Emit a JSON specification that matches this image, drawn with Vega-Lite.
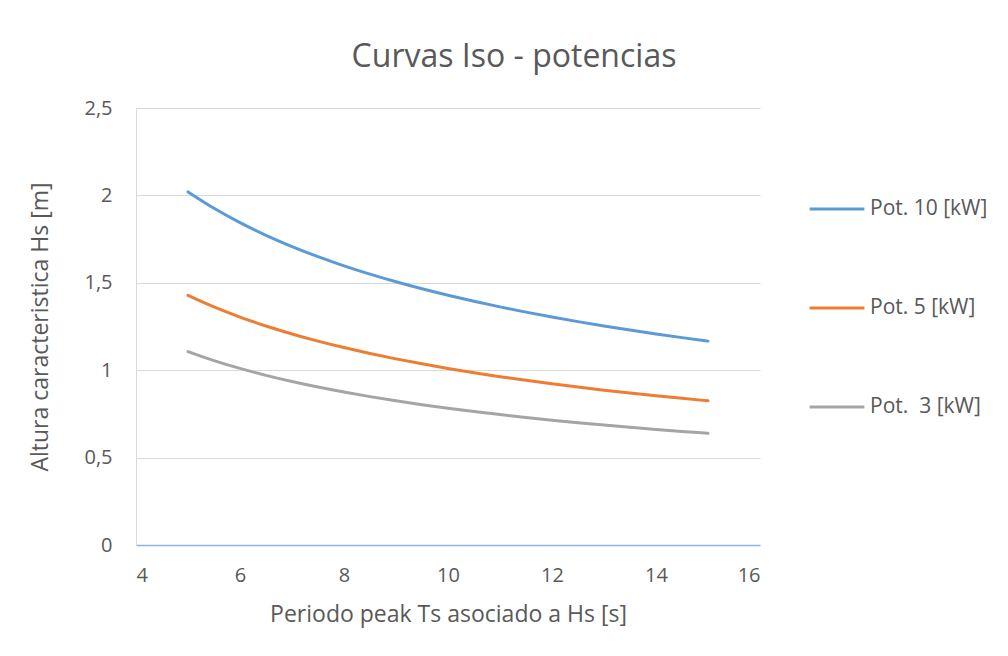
{
  "$schema": "https://vega.github.io/schema/vega-lite/v6.json",
  "width": 624,
  "height": 437,
  "autosize": {"type": "none"},
  "padding": {"left": 136, "top": 108, "right": 248, "bottom": 111},
  "background": "white",
  "title": {
    "text": "Curvas Iso - potencias",
    "font": "Open Sans",
    "fontSize": 32,
    "fontWeight": "normal",
    "color": "#595959",
    "anchor": "middle",
    "dx": 66,
    "offset": 24
  },
  "data": {
    "values": [
      {"T": 5, "serie": "Pot. 10 [kW]", "H": 2.0203},
      {"T": 5.5, "serie": "Pot. 10 [kW]", "H": 1.9263},
      {"T": 6, "serie": "Pot. 10 [kW]", "H": 1.8443},
      {"T": 6.5, "serie": "Pot. 10 [kW]", "H": 1.7719},
      {"T": 7, "serie": "Pot. 10 [kW]", "H": 1.7075},
      {"T": 7.5, "serie": "Pot. 10 [kW]", "H": 1.6496},
      {"T": 8, "serie": "Pot. 10 [kW]", "H": 1.5972},
      {"T": 8.5, "serie": "Pot. 10 [kW]", "H": 1.5495},
      {"T": 9, "serie": "Pot. 10 [kW]", "H": 1.5058},
      {"T": 9.5, "serie": "Pot. 10 [kW]", "H": 1.4657},
      {"T": 10, "serie": "Pot. 10 [kW]", "H": 1.4286},
      {"T": 10.5, "serie": "Pot. 10 [kW]", "H": 1.3941},
      {"T": 11, "serie": "Pot. 10 [kW]", "H": 1.3621},
      {"T": 11.5, "serie": "Pot. 10 [kW]", "H": 1.3322},
      {"T": 12, "serie": "Pot. 10 [kW]", "H": 1.3041},
      {"T": 12.5, "serie": "Pot. 10 [kW]", "H": 1.2778},
      {"T": 13, "serie": "Pot. 10 [kW]", "H": 1.2529},
      {"T": 13.5, "serie": "Pot. 10 [kW]", "H": 1.2295},
      {"T": 14, "serie": "Pot. 10 [kW]", "H": 1.2074},
      {"T": 14.5, "serie": "Pot. 10 [kW]", "H": 1.1864},
      {"T": 15, "serie": "Pot. 10 [kW]", "H": 1.1664},
      {"T": 5, "serie": "Pot. 5 [kW]", "H": 1.4286},
      {"T": 5.5, "serie": "Pot. 5 [kW]", "H": 1.3621},
      {"T": 6, "serie": "Pot. 5 [kW]", "H": 1.3041},
      {"T": 6.5, "serie": "Pot. 5 [kW]", "H": 1.2529},
      {"T": 7, "serie": "Pot. 5 [kW]", "H": 1.2074},
      {"T": 7.5, "serie": "Pot. 5 [kW]", "H": 1.1664},
      {"T": 8, "serie": "Pot. 5 [kW]", "H": 1.1294},
      {"T": 8.5, "serie": "Pot. 5 [kW]", "H": 1.0957},
      {"T": 9, "serie": "Pot. 5 [kW]", "H": 1.0648},
      {"T": 9.5, "serie": "Pot. 5 [kW]", "H": 1.0364},
      {"T": 10, "serie": "Pot. 5 [kW]", "H": 1.0102},
      {"T": 10.5, "serie": "Pot. 5 [kW]", "H": 0.9858},
      {"T": 11, "serie": "Pot. 5 [kW]", "H": 0.9631},
      {"T": 11.5, "serie": "Pot. 5 [kW]", "H": 0.942},
      {"T": 12, "serie": "Pot. 5 [kW]", "H": 0.9221},
      {"T": 12.5, "serie": "Pot. 5 [kW]", "H": 0.9035},
      {"T": 13, "serie": "Pot. 5 [kW]", "H": 0.8859},
      {"T": 13.5, "serie": "Pot. 5 [kW]", "H": 0.8694},
      {"T": 14, "serie": "Pot. 5 [kW]", "H": 0.8538},
      {"T": 14.5, "serie": "Pot. 5 [kW]", "H": 0.8389},
      {"T": 15, "serie": "Pot. 5 [kW]", "H": 0.8248},
      {"T": 5, "serie": "Pot. \u00a03 [kW]", "H": 1.1066},
      {"T": 5.5, "serie": "Pot. \u00a03 [kW]", "H": 1.0551},
      {"T": 6, "serie": "Pot. \u00a03 [kW]", "H": 1.0102},
      {"T": 6.5, "serie": "Pot. \u00a03 [kW]", "H": 0.9705},
      {"T": 7, "serie": "Pot. \u00a03 [kW]", "H": 0.9352},
      {"T": 7.5, "serie": "Pot. \u00a03 [kW]", "H": 0.9035},
      {"T": 8, "serie": "Pot. \u00a03 [kW]", "H": 0.8748},
      {"T": 8.5, "serie": "Pot. \u00a03 [kW]", "H": 0.8487},
      {"T": 9, "serie": "Pot. \u00a03 [kW]", "H": 0.8248},
      {"T": 9.5, "serie": "Pot. \u00a03 [kW]", "H": 0.8028},
      {"T": 10, "serie": "Pot. \u00a03 [kW]", "H": 0.7825},
      {"T": 10.5, "serie": "Pot. \u00a03 [kW]", "H": 0.7636},
      {"T": 11, "serie": "Pot. \u00a03 [kW]", "H": 0.7461},
      {"T": 11.5, "serie": "Pot. \u00a03 [kW]", "H": 0.7297},
      {"T": 12, "serie": "Pot. \u00a03 [kW]", "H": 0.7143},
      {"T": 12.5, "serie": "Pot. \u00a03 [kW]", "H": 0.6999},
      {"T": 13, "serie": "Pot. \u00a03 [kW]", "H": 0.6862},
      {"T": 13.5, "serie": "Pot. \u00a03 [kW]", "H": 0.6734},
      {"T": 14, "serie": "Pot. \u00a03 [kW]", "H": 0.6613},
      {"T": 14.5, "serie": "Pot. \u00a03 [kW]", "H": 0.6498},
      {"T": 15, "serie": "Pot. \u00a03 [kW]", "H": 0.6389}
    ]
  },
  "mark": {"type": "line", "strokeWidth": 3, "interpolate": "monotone", "strokeCap": "round"},
  "encoding": {
    "x": {
      "field": "T",
      "type": "quantitative",
      "scale": {"domain": [4, 16], "nice": false, "zero": false},
      "axis": {
        "values": [4, 6, 8, 10, 12, 14, 16],
        "title": "Periodo peak Ts asociado a Hs [s]",
        "grid": false,
        "ticks": false,
        "domainColor": "#8db3e2",
        "domainWidth": 1.5,
        "labelPadding": 20,
        "titlePadding": 18
      }
    },
    "y": {
      "field": "H",
      "type": "quantitative",
      "scale": {"domain": [0, 2.5], "nice": false},
      "axis": {
        "values": [0, 0.5, 1, 1.5, 2, 2.5],
        "labelExpr": "replace(format(datum.value, '~g'), '.', ',')",
        "title": "Altura caracteristica Hs [m]",
        "grid": true,
        "gridColor": "#d9d9d9",
        "ticks": false,
        "domainColor": "#d9d9d9",
        "labelPadding": 24,
        "titlePadding": 31
      }
    },
    "color": {
      "field": "serie",
      "type": "nominal",
      "sort": ["Pot. 10 [kW]", "Pot. 5 [kW]", "Pot. \u00a03 [kW]"],
      "scale": {
        "domain": ["Pot. 10 [kW]", "Pot. 5 [kW]", "Pot. \u00a03 [kW]"],
        "range": ["#5b9bd5", "#ed7d31", "#a5a5a5"]
      },
      "legend": {
        "title": null,
        "orient": "none",
        "legendX": 672,
        "legendY": 72,
        "symbolType": "stroke",
        "symbolSize": 3000,
        "symbolStrokeWidth": 3,
        "rowPadding": 60,
        "labelFontSize": 21,
        "labelFont": "Open Sans",
        "labelColor": "#595959",
        "labelOffset": 4
      }
    }
  },
  "config": {
    "view": {"stroke": null},
    "axis": {
      "labelFont": "Open Sans",
      "labelFontSize": 20,
      "labelColor": "#595959",
      "titleFont": "Open Sans",
      "titleFontSize": 23,
      "titleFontWeight": "normal",
      "titleColor": "#595959"
    }
  }
}
